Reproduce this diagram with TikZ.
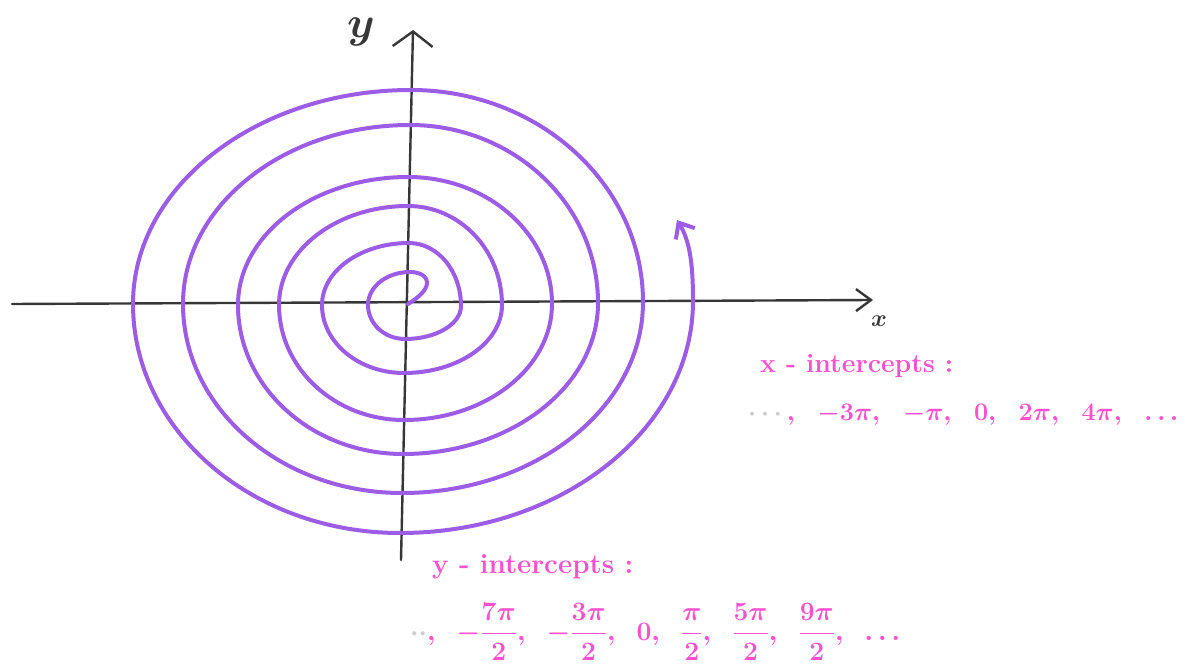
\RequirePackage{fix-cm}
\documentclass[tikz,border=0pt]{standalone}
\usepackage{amsmath}
\usetikzlibrary{arrows.meta}
\definecolor{spiral}{RGB}{157,92,229}
\definecolor{pinkink}{RGB}{255,80,205}
\definecolor{axisink}{RGB}{55,55,55}
\definecolor{fadeink}{RGB}{205,205,205}
\begin{document}
\begin{tikzpicture}[x=1pt,y=1pt,
  axisline/.style={draw=axisink, line width=2.4pt, line cap=round},
  curve/.style={draw=spiral, line width=4pt, line cap=round, line join=round},
  note/.style={text=pinkink, inner sep=0pt, font=\fontsize{24}{28}\selectfont\bfseries\boldmath},
  axlabel/.style={text=axisink, inner sep=0pt}]
\useasboundingbox (0,0) rectangle (1188,670);

% axes
\coordinate (xl) at (12,366);
\coordinate (xr) at (873,370);
\coordinate (yb) at (401,110);
\coordinate (yt) at (413,640);
\draw[axisline, -{Straight Barb[length=15pt,width=22pt]}] (xl) -- (xr);
\draw[axisline, -{Straight Barb[length=15pt,width=40pt]}] (yb) -- (yt);
\node[axlabel, font=\fontsize{44}{48}\selectfont\boldmath] (ylab) at (361,638) {$y$};
\node[axlabel, font=\fontsize{24}{28}\selectfont\boldmath] (xlab) at (879,349) {$x$};

% spiral
\coordinate (o) at (408,366);
\coordinate (e) at (677,450);
\draw[curve, -{Straight Barb[length=13pt,width=22pt]}] (o)
  .. controls (418,372) and (427,380) .. (427,387)
  .. controls (427,395) and (418,398) .. (410,398)
  arc[start angle=90,end angle=180,x radius=42,y radius=33]
  arc[start angle=180,end angle=270,x radius=37,y radius=34]
  arc[start angle=270,end angle=360,x radius=56,y radius=33]
  arc[start angle=0,end angle=90,x radius=52,y radius=63]
  arc[start angle=90,end angle=180,x radius=87,y radius=62]
  arc[start angle=180,end angle=270,x radius=82,y radius=68]
  arc[start angle=270,end angle=360,x radius=98,y radius=68]
  arc[start angle=0,end angle=90,x radius=94,y radius=99]
  arc[start angle=90,end angle=180,x radius=129,y radius=99]
  arc[start angle=180,end angle=270,x radius=125,y radius=115]
  arc[start angle=270,end angle=360,x radius=148,y radius=116]
  arc[start angle=0,end angle=90,x radius=144,y radius=127]
  arc[start angle=90,end angle=180,x radius=170,y radius=128]
  arc[start angle=180,end angle=270,x radius=165,y radius=149]
  arc[start angle=270,end angle=360,x radius=195,y radius=151]
  arc[start angle=0,end angle=90,x radius=188,y radius=178]
  arc[start angle=90,end angle=180,x radius=227,y radius=179]
  arc[start angle=180,end angle=270,x radius=219,y radius=189]
  arc[start angle=270,end angle=360,x radius=241,y radius=191]
  arc[start angle=0,end angle=90,x radius=232,y radius=212]
  arc[start angle=90,end angle=180,x radius=278,y radius=214]
  arc[start angle=180,end angle=270,x radius=267,y radius=229]
  arc[start angle=270,end angle=360,x radius=293,y radius=232]
  .. controls (693,410) and (689,430) .. (e);

% notes
\node[note, anchor=base west] (xtitle) at (760,298) {\resizebox{193pt}{!}{x - intercepts :}};
\node[note, anchor=base west] (xvals) at (748,250)
  {\resizebox{430pt}{!}{\textcolor{fadeink}{$\cdots$}$,\hspace{0.7em}-3\pi,\hspace{0.7em}-\pi,\hspace{0.7em}0,\hspace{0.7em}2\pi,\hspace{0.7em}4\pi,\hspace{0.7em}\ldots$}};
\node[note, anchor=base west] (ytitle) at (432,97) {\resizebox{201pt}{!}{y - intercepts :}};
\node[note, anchor=west] (yvals) at (410,38)
  {\resizebox{490pt}{!}{\textcolor{fadeink}{$\cdot\cdot$}$,\hspace{0.6em}-\dfrac{7\pi}{2},\hspace{0.6em}-\dfrac{3\pi}{2},\hspace{0.6em}0,\hspace{0.6em}\dfrac{\pi}{2},\hspace{0.6em}\dfrac{5\pi}{2},\hspace{0.6em}\dfrac{9\pi}{2},\hspace{0.6em}\ldots$}};
\end{tikzpicture}
\end{document}
